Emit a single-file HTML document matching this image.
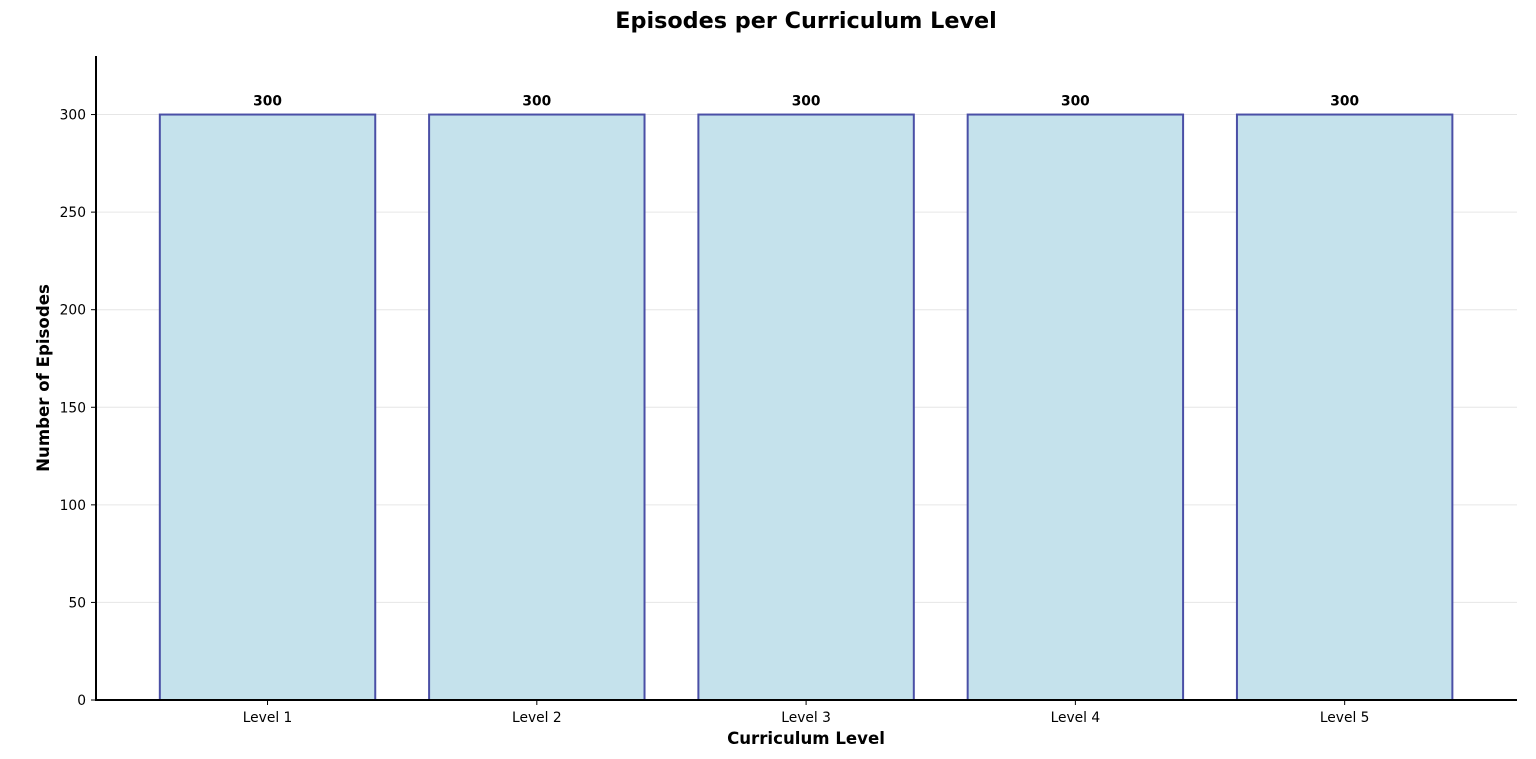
<!DOCTYPE html>
<html><head><meta charset="utf-8"><style>
html,body{margin:0;padding:0;background:#fff;}
svg{display:block;font-family:"DejaVu Sans","Liberation Sans",sans-serif;}
</style></head><body>
<svg id="chart" width="1536" height="759" xmlns="http://www.w3.org/2000/svg">
<text x="806" y="28" text-anchor="middle" font-size="22.3" font-weight="bold">Episodes per Curriculum Level</text>
<text x="806" y="744" text-anchor="middle" font-size="16.6" font-weight="bold">Curriculum Level</text>
<text transform="translate(49,378) rotate(-90)" text-anchor="middle" font-size="16.6" font-weight="bold">Number of Episodes</text>
<g id="grid"></g><g id="bars"></g><g id="axes"></g>
</svg>
<script>
const categories = ["Level 1","Level 2","Level 3","Level 4","Level 5"];
const values = [300,300,300,300,300];
const yTicks = [0,50,100,150,200,250,300];
const NS="http://www.w3.org/2000/svg";
const L=96,R=1517,T=56,B=700,yMax=330,xMin=-0.637,xMax=4.64;
const y=v=>B-(v/yMax)*(B-T);
const x=i=>L+(i-xMin)/(xMax-xMin)*(R-L);
function mk(tag,attrs,parent){const e=document.createElementNS(NS,tag);for(const k in attrs)e.setAttribute(k,attrs[k]);parent.appendChild(e);return e;}
const grid=document.getElementById('grid'),bars=document.getElementById('bars'),axes=document.getElementById('axes');
yTicks.forEach(t=>{
  const g=mk('line',{x1:L,x2:R,y1:y(t),y2:y(t),stroke:'#e6e6e6','stroke-width':1},grid);
  
  
  const tk=mk('line',{x1:L-5,x2:L,y1:y(t),y2:y(t),stroke:'#000','stroke-width':1},axes);
  
  
  const lb=mk('text',{x:L-10,y:y(t)+5,'text-anchor':'end','font-size':13.8},axes);
  lb.textContent=t;
  
  
});
const w=0.8*(x(1)-x(0));
categories.forEach((c,i)=>{
  const cx=x(i);
  const r=mk('rect',{x:cx-w/2,y:y(values[i]),width:w,height:B-y(values[i]),fill:'#c5e2ec',stroke:'#4a4fa6','stroke-width':2},bars);
  
  
  const v=mk('text',{x:cx,y:y(values[i])-9,'text-anchor':'middle','font-size':13.8,'font-weight':'bold'},bars);
  v.textContent=values[i];
  
  
  const tk=mk('line',{x1:cx,x2:cx,y1:B,y2:B+5,stroke:'#000','stroke-width':1},axes);
  
  
  const lb=mk('text',{x:cx,y:B+22,'text-anchor':'middle','font-size':13.8},axes);
  lb.textContent=c;
  
  
});
const ya=mk('line',{x1:L,x2:L,y1:T,y2:B+1,stroke:'#000','stroke-width':2},axes);


const xa=mk('line',{x1:L-1,x2:R,y1:B,y2:B,stroke:'#000','stroke-width':2},axes);


</script>
</body></html>
